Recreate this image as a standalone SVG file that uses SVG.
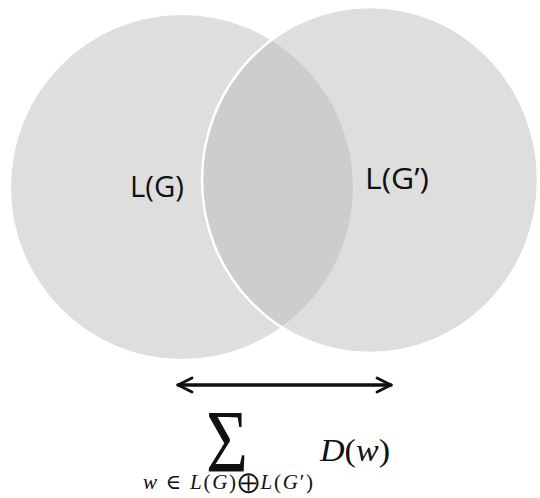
<svg xmlns="http://www.w3.org/2000/svg" width="540" height="498" viewBox="0 0 540 498">
  <defs>
    <style>
      .set { fill: #dedede; }
      .lbl { font-family: "Open Sans", "Liberation Sans", sans-serif; font-size: 29px; fill: #111; }
      .math { font-family: "Liberation Serif", "DejaVu Serif", serif; fill: #111; }
      .conn { stroke: #111; stroke-width: 3.5; fill: none; stroke-linecap: round; }
    </style>
    <marker id="chev" viewBox="0 0 10 10" refX="9" refY="5" markerWidth="5" markerHeight="5" orient="auto-start-reverse" markerUnits="strokeWidth">
      <path d="M1,1 L9,5 L1,9" fill="none" stroke="#111" stroke-width="1.6" stroke-linecap="round" stroke-linejoin="round"/>
    </marker>
  </defs>
  <rect width="540" height="498" fill="#ffffff"/>
  <g id="set-LG">
    <ellipse class="set" cx="182" cy="187" rx="171" ry="172"/>
  </g>
  <g id="set-LG2">
    <ellipse cx="370" cy="180" rx="168" ry="173" fill="#bbbbbb" fill-opacity="0.485" stroke="#ffffff" stroke-width="2.5"/>
  </g>
  <g id="label-LG">
    <text class="lbl" x="130" y="197" textLength="54" lengthAdjust="spacingAndGlyphs">L(G)</text>
  </g>
  <g id="label-LG2">
    <text class="lbl" x="365" y="189" textLength="64" lengthAdjust="spacingAndGlyphs">L(G’)</text>
  </g>
  <g id="connectors">
    <line class="conn" x1="178" y1="385" x2="391" y2="385" marker-start="url(#chev)" marker-end="url(#chev)"/>
  </g>
  <g id="formula">
    <text class="math" transform="translate(206,471) scale(0.82,1)" font-size="88">Σ</text>
    <text class="math" x="320" y="461" font-size="31" textLength="70" lengthAdjust="spacingAndGlyphs"><tspan font-style="italic">D</tspan>(<tspan font-style="italic">w</tspan>)</text>
    <text class="math" x="143" y="489" font-size="21" textLength="170" lengthAdjust="spacing"><tspan font-style="italic">w</tspan> ∈ <tspan font-style="italic">L</tspan>(<tspan font-style="italic">G</tspan>)<tspan font-size="21">⨁</tspan><tspan font-style="italic">L</tspan>(<tspan font-style="italic">G</tspan>′)</text>
  </g>
</svg>
